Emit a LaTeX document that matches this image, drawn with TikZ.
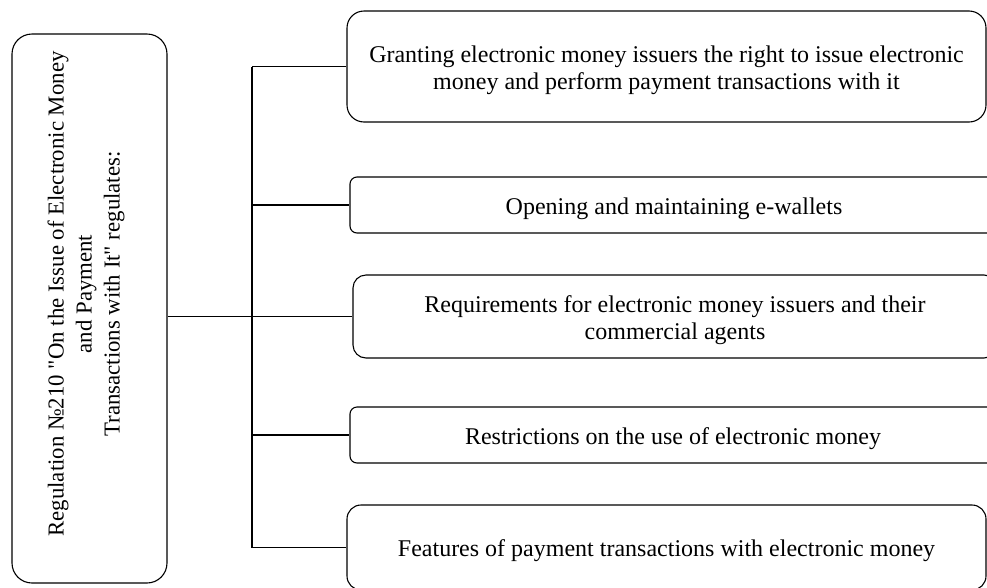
\documentclass[tikz,border=0pt]{standalone}
\usepackage{fontspec}
\setmainfont{Liberation Serif}
\usetikzlibrary{positioning}
\tikzset{
  item/.style={draw, line width=1.1pt, align=center, inner sep=0pt, text height=24pt,
    font=\fontsize{24}{27}\selectfont},
  twoline/.style={text height=52pt},
  link/.style={line width=1.1pt},
}
\begin{document}
\begin{tikzpicture}[x=1pt, y=-1pt]
	\clip (0,0) rectangle (987,587);
	\node [item, rounded corners=20pt, minimum width=155pt, minimum height=549pt] (reg) at (89.5,308.5) {};
	\node [rotate=90, align=center, font=\fontsize{22.8}{28}\selectfont] (reglabel) at (86,294)
		{Regulation №210 \textquotedbl On the Issue of Electronic Money\\ and Payment\\ Transactions with It\textquotedbl\ regulates:};
	\node [item, twoline, rounded corners=17pt, minimum width=639pt, minimum height=111pt] (b1) at (666.5,66.5)
		{Granting electronic money issuers the right to issue electronic\\ money and perform payment transactions with it};
	\node [item, rounded corners=7pt, minimum width=648pt, minimum height=56pt] (b2) at (674,205)
		{Opening and maintaining e-wallets};
	\node [item, twoline, rounded corners=13pt, minimum width=644pt, minimum height=83pt] (b3) at (675,316.5)
		{Requirements for electronic money issuers and their\\ commercial agents};
	\node [item, rounded corners=7pt, minimum width=646pt, minimum height=56pt] (b4) at (673,435)
		{Restrictions on the use of electronic money};
	\node [item, rounded corners=14pt, minimum width=639pt, minimum height=85pt] (b5) at (666.5,547.5)
		{Features of payment transactions with electronic money};
	% trunk and branches
	\coordinate (trunk) at (252,0);
	\draw [link] (trunk |- b1.west) -- (trunk |- b5.west);
	\foreach \b in {b1,b2,b4,b5}
		\draw [link] (trunk |- \b.west) -- (\b.west);
	\draw [link] (reg.east |- b3.west) -- (b3.west);
\end{tikzpicture}
\end{document}
